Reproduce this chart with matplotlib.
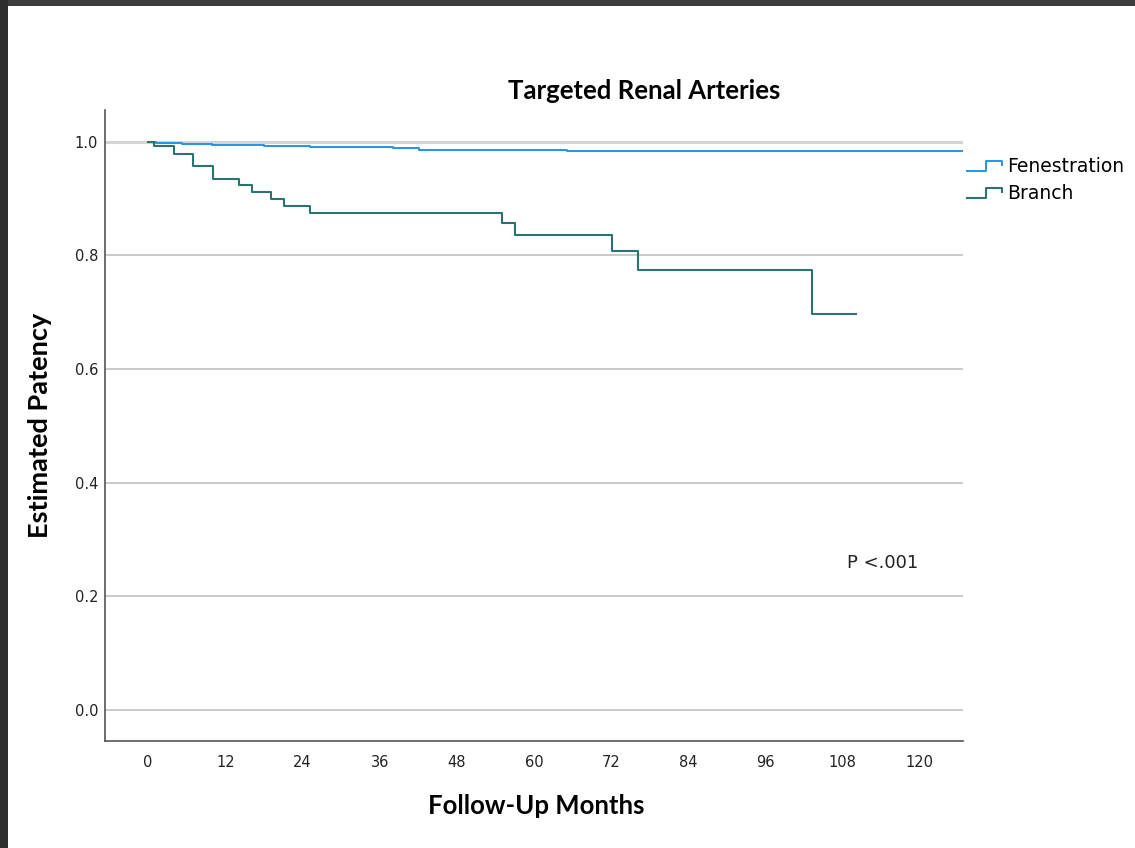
import numpy as np
import matplotlib
matplotlib.use('Agg')
from matplotlib import pyplot as plt
from matplotlib.lines import Line2D
from matplotlib.patches import Rectangle
from matplotlib.legend_handler import HandlerBase

# Kaplan-Meier estimates, months of follow-up
fen_months = [0, 1.2, 5.2, 9.9, 15, 18, 22, 25.2, 33, 38, 42.1, 65.1, 126.5]
fen_surv = [1.0, 0.998, 0.997, 0.995, 0.994, 0.993, 0.992, 0.991, 0.990, 0.989, 0.986, 0.983, 0.983]

br_months = [0, 0.93, 4.0, 7.05, 10.05, 14.1, 16.1, 19.1, 21.1, 25.1, 55.1, 57.1, 72.2, 76.2, 103.2, 110.1]
br_surv = [1.0, 0.992, 0.979, 0.958, 0.935, 0.924, 0.912, 0.900, 0.887, 0.875, 0.857, 0.836, 0.808, 0.774, 0.697, 0.697]

x_ticks = [0, 12, 24, 36, 48, 60, 72, 84, 96, 108, 120]
y_ticks = [0.0, 0.2, 0.4, 0.6, 0.8, 1.0]

fen_color = '#2294e4'
br_color = '#2c7270'


class StepHandler(HandlerBase):
    def create_artists(self, legend, orig_handle, xdescent, ydescent,
                       width, height, fontsize, trans):
        x = np.array([0, 0.55, 0.55, 1.0, 1.0]) * width - xdescent
        y = np.array([0.1, 0.1, 0.85, 0.85, 0.55]) * height - ydescent
        ln = Line2D(x, y, color=orig_handle.get_color(),
                    lw=orig_handle.get_linewidth())
        ln.set_transform(trans)
        return [ln]


fig = plt.figure(figsize=(11.35, 8.48), dpi=100)
fig.patch.set_facecolor('white')

# dark frame along the top and left edges
fig.patches.append(Rectangle((0, 1 - 6 / 848), 1, 6 / 848, transform=fig.transFigure,
                             facecolor='#3c3c3c', edgecolor='none', zorder=10))
fig.patches.append(Rectangle((0, 0), 8 / 1135, 1, transform=fig.transFigure,
                             facecolor='#2e2e2e', edgecolor='none', zorder=10))

ax = fig.add_axes([105 / 1135, 1 - 741 / 848, (963 - 105) / 1135, (741 - 110) / 848])

for yv in y_ticks:
    ax.axhline(yv, color='#d4d4d4' if yv == 1.0 else '#c6c6c6',
               lw=2.2 if yv == 1.0 else 1.3, zorder=1)

l1, = ax.plot(fen_months, fen_surv, drawstyle='steps-post', color=fen_color, lw=1.4, zorder=3)
l2, = ax.plot(br_months, br_surv, drawstyle='steps-post', color=br_color, lw=1.5, zorder=3)

ax.set_xlim(-6.7, 126.7)
ax.set_ylim(-0.055, 1.056)
ax.set_xticks(x_ticks)
ax.set_yticks(y_ticks)
ax.set_yticklabels(['%.1f' % v for v in y_ticks])
ax.tick_params(length=0, labelsize=10.5, colors='#222222')
ax.tick_params(axis='x', pad=10)
ax.tick_params(axis='y', pad=5)

for s in ['top', 'right']:
    ax.spines[s].set_visible(False)
for s in ['left', 'bottom']:
    ax.spines[s].set_color('#555555')
    ax.spines[s].set_linewidth(1.2)

ax.text(108.7, 0.259, 'P <.001', fontsize=13, va='center', ha='left', color='#222222')

fig.text(644 / 1135, 1 - 91 / 848, 'Targeted Renal Arteries', ha='center', va='center',
         fontsize=18.5, fontweight='bold', family='Lato')
fig.text(536 / 1135, 1 - 806 / 848, 'Follow-Up Months', ha='center', va='center',
         fontsize=18.5, fontweight='bold', family='Lato')
fig.text(40 / 1135, 1 - 425 / 848, 'Estimated Patency', ha='center', va='center',
         rotation=90, fontsize=19.5, fontweight='bold', family='Lato')

fig.legend([l1, l2], ['Fenestration', 'Branch'], loc='upper left',
           bbox_to_anchor=(967 / 1135, 1 - 157 / 848), frameon=False,
           handler_map={Line2D: StepHandler()}, fontsize=13.5,
           handlelength=1.85, handletextpad=0.3, labelspacing=0.45,
           borderpad=0, borderaxespad=0)

fig.savefig('out.png', dpi=100)
